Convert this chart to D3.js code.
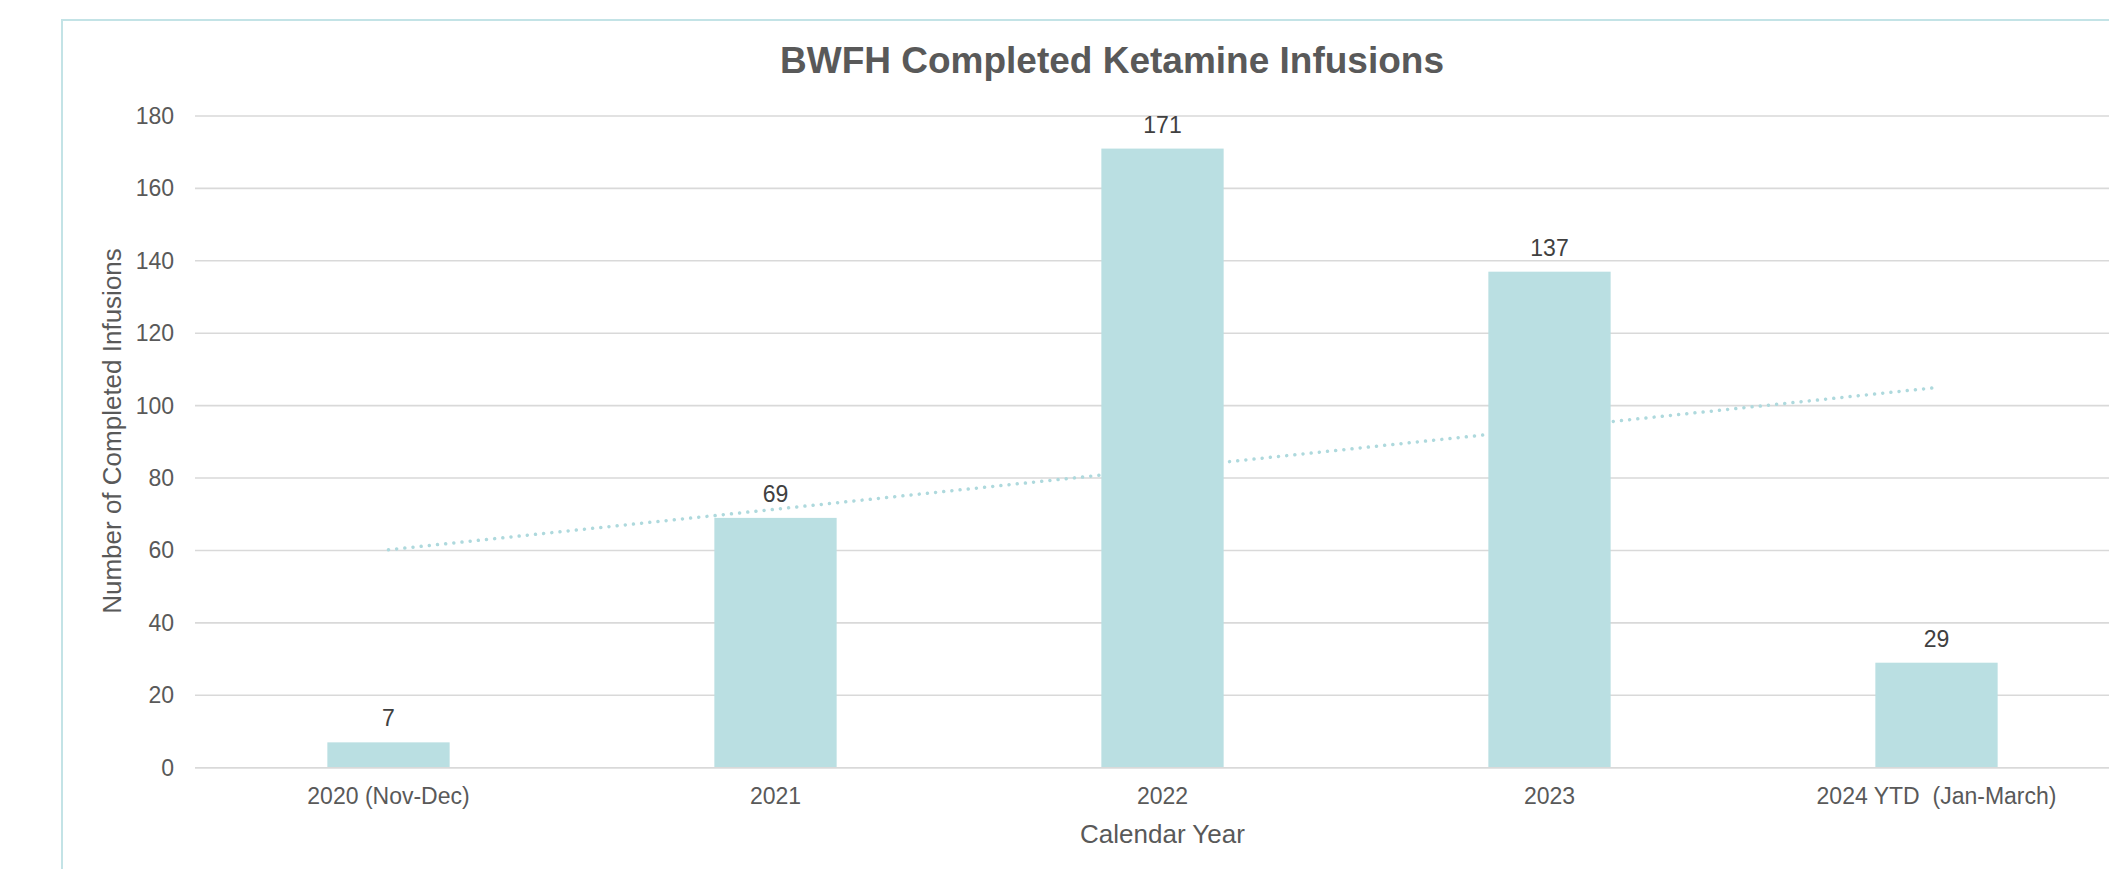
<!DOCTYPE html>
<html>
<head>
<meta charset="utf-8">
<script src="https://cdn.jsdelivr.net/npm/d3@7"></script>
<style>
  html, body { margin: 0; padding: 0; background: #ffffff; overflow: hidden; }
  svg { display: block; font-family: "Liberation Sans", Arial, sans-serif; }
</style>
</head>
<body>
<svg id="chart" width="2109" height="869"></svg>
<script>
// ---- data ----
const categories = ["2020 (Nov-Dec)", "2021", "2022", "2023", "2024 YTD  (Jan-March)"];
const values = [7, 69, 171, 137, 29];
const yTicks = [0, 20, 40, 60, 80, 100, 120, 140, 160, 180];
// linear trendline end values (first and last category)
const trendCategories = ["2020 (Nov-Dec)", "2024 YTD  (Jan-March)"];
const trendValues = [60.2, 105.0];
const chartTitle = "BWFH Completed Ketamine Infusions";
const xTitle = "Calendar Year";
const yTitle = "Number of Completed Infusions";

// ---- layout ----
const svg = d3.select("#chart");
const plot = { left: 195, right: 2130, top: 116, bottom: 767.7 };
const barColor = "#badfe2";
const textColor = "#595959";

// outer chart border (clipped at right and bottom like the reference)
svg.append("rect")
  .attr("x", 62).attr("y", 20)
  .attr("width", 2200).attr("height", 1000)
  .attr("fill", "none")
  .attr("stroke", "#c3e3e6")
  .attr("stroke-width", 2);

const x = d3.scaleBand()
  .domain(categories)
  .range([plot.left, plot.right])
  .paddingInner(0.684)
  .paddingOuter(0.342);

const y = d3.scaleLinear()
  .domain([0, 180])
  .range([plot.bottom, plot.top]);

// gridlines
svg.append("g")
  .selectAll("line")
  .data(yTicks)
  .join("line")
  .attr("x1", plot.left).attr("x2", plot.right)
  .attr("y1", d => y(d)).attr("y2", d => y(d))
  .attr("stroke", "#d9d9d9")
  .attr("stroke-width", 1.6);

// y axis (labels only)
const yAxis = svg.append("g")
  .attr("transform", `translate(${plot.left},0)`)
  .call(d3.axisLeft(y).tickValues(yTicks).tickSize(0).tickPadding(21));
yAxis.select(".domain").remove();
yAxis.selectAll("text")
  .attr("fill", textColor)
  .style("font-size", "23px")
  .style("font-family", "'Liberation Sans', Arial, sans-serif");

// trendline (dotted) - behind the bars
const line = d3.line()
  .x((d, i) => x(trendCategories[i]) + x.bandwidth() / 2)
  .y(d => y(d));
svg.append("path")
  .datum(trendValues)
  .attr("d", line)
  .attr("fill", "none")
  .attr("stroke", "#aed9dd")
  .attr("stroke-width", 3.5)
  .attr("stroke-linecap", "round")
  .attr("stroke-dasharray", "0.01 8.2");

// bars
svg.append("g")
  .selectAll("rect")
  .data(values)
  .join("rect")
  .attr("x", (d, i) => x(categories[i]))
  .attr("y", d => y(d))
  .attr("width", x.bandwidth())
  .attr("height", d => y(0) - y(d))
  .attr("fill", barColor);

// data labels
svg.append("g")
  .selectAll("text")
  .data(values)
  .join("text")
  .attr("x", (d, i) => x(categories[i]) + x.bandwidth() / 2)
  .attr("y", d => y(d) - 16)
  .attr("text-anchor", "middle")
  .attr("fill", "#404040")
  .style("font-size", "23px")
  .text(d => d);

// x axis (labels only)
const xAxis = svg.append("g")
  .attr("transform", `translate(0,${plot.bottom})`)
  .call(d3.axisBottom(x).tickSize(0).tickPadding(20));
xAxis.select(".domain").remove();
xAxis.selectAll("text")
  .attr("fill", textColor)
  .style("font-size", "23px")
  .style("font-family", "'Liberation Sans', Arial, sans-serif")
  .style("white-space", "pre")
  .attr("xml:space", "preserve");

// baseline (zero line drawn on top of bars)
svg.append("line")
  .attr("x1", plot.left).attr("x2", plot.right)
  .attr("y1", y(0)).attr("y2", y(0))
  .attr("stroke", "#d9d9d9")
  .attr("stroke-width", 1.6);

// title
svg.append("text")
  .attr("x", 1112).attr("y", 73)
  .attr("text-anchor", "middle")
  .attr("fill", textColor)
  .style("font-size", "37px")
  .style("font-weight", "bold")
  .text(chartTitle);

// x axis title
svg.append("text")
  .attr("x", (plot.left + plot.right) / 2).attr("y", 843)
  .attr("text-anchor", "middle")
  .attr("fill", textColor)
  .style("font-size", "26px")
  .text(xTitle);

// y axis title
svg.append("text")
  .attr("transform", "translate(121,431) rotate(-90)")
  .attr("text-anchor", "middle")
  .attr("fill", textColor)
  .style("font-size", "26px")
  .text(yTitle);
</script>
</body>
</html>
